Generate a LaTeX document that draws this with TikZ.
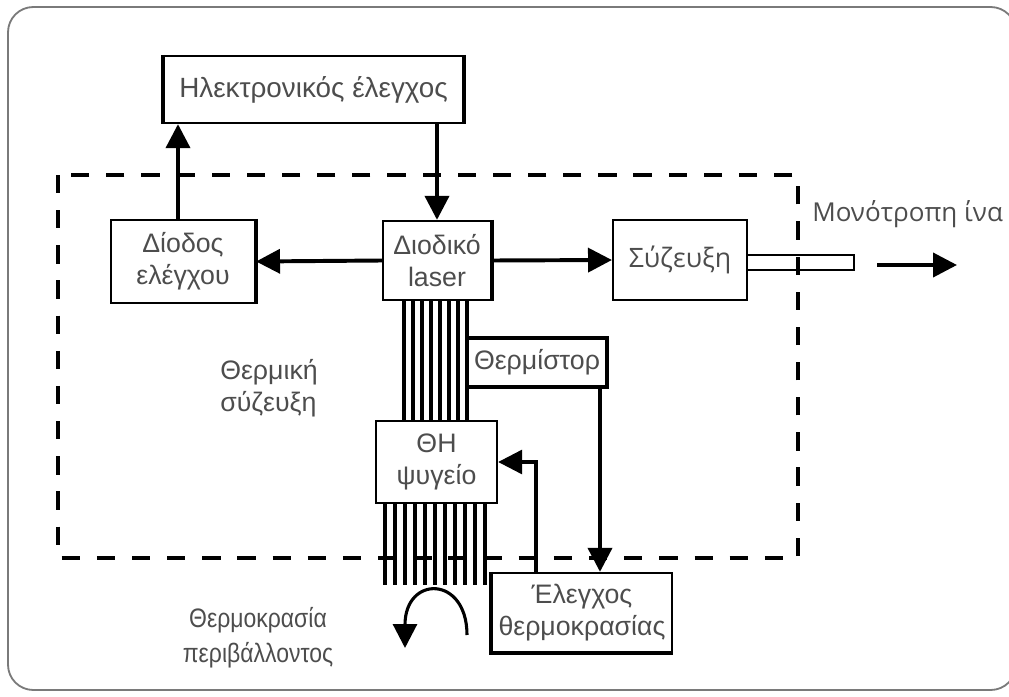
\documentclass[tikz,border=0pt]{standalone}
\usepackage{fontspec}
\setmainfont{Liberation Sans}
\newfontfamily\uifont{Open Sans}
\newfontfamily\narrowfont[FakeStretch=0.86]{Liberation Sans}
\usetikzlibrary{arrows.meta,positioning}

\definecolor{txtgray}{HTML}{4D4D4D}
\definecolor{framegray}{HTML}{7A7A7A}

\tikzset{
    box/.style={draw, line width=1.5pt, text=txtgray, align=center, inner sep=0pt,
        font=\fontsize{19}{23}\selectfont},
    lbl/.style={text=txtgray, align=center, inner sep=0pt, font=\fontsize{19}{23}\selectfont},
    arr/.style={line width=2.8pt, -{Triangle[length=17pt,width=17pt]}},
    fin/.style={line width=2.4pt},
    rim/.style={line width=3pt},
    enclosure/.style={line width=2.8pt, dash pattern=on 13pt off 12pt},
    frame/.style={draw=framegray, line width=1.3pt, rounded corners=18pt},
}

\begin{document}
\begin{tikzpicture}[x=0.025cm, y=-0.025cm]
    \useasboundingbox (0,0) rectangle (1009,697);
    \draw[frame] (8,7) rectangle (1016,690);

    % thermal enclosure
    \draw[enclosure] (58,175) rectangle (798,558);

    % blocks
    \node[box, minimum width=7.48cm, minimum height=1.68cm, font=\fontsize{19.8}{23}\selectfont] (ctrl) at (313.5,89.5) {Ηλεκτρονικός έλεγχος};
    \node[box, minimum width=3.6cm, minimum height=2.08cm] (mon) at (183,261.5) {Δίοδος\\ελέγχου};
    \node[box, minimum width=2.7cm, minimum height=1.98cm] (laser) at (437,260.5) {Διοδικό\\laser};
    \node[box, minimum width=3.35cm, minimum height=2cm, font=\uifont\fontsize{19}{23}\selectfont] (coup) at (680,260) {Σύζευξη};
    \node[draw, line width=1.5pt, minimum width=2.68cm, minimum height=0.38cm, inner sep=0pt] (fiber) at (800.5,262.5) {};
    \node[box, minimum width=3.03cm, minimum height=2.05cm] (tec) at (436.5,462) {ΘΗ\\ψυγείο};
    \node[box, line width=2.5pt, minimum width=3.5cm, minimum height=1.23cm] (therm) at (537,362.5) {Θερμίστορ};
    \node[box, minimum width=4.5cm, minimum height=1.98cm] (tctl) at (582,612.5) {Έλεγχος\\θερμοκρασίας};

    % thicker rims
    \draw[rim] (ctrl.north east) -- (ctrl.south east);
    \draw[rim] (ctrl.north west) -- (ctrl.south west);
    \draw[rim] (mon.north east) -- (mon.south east);
    \draw[rim] (laser.north east) -- (laser.south east);
    \draw[rim] (tctl.north west) -- (tctl.south west) -- (tctl.south east);

    % texts
    \node[lbl, align=left, anchor=west] (couplbl) at (220,388) {Θερμική\\σύζευξη};
    \node[lbl, font=\narrowfont\fontsize{19}{25}\selectfont] (amblbl) at (258,638) {Θερμοκρασία\\περιβάλλοντος};
    \node[lbl, anchor=west, font=\uifont\fontsize{18.5}{22}\selectfont] (fiblbl) at (812,214) {Μονότροπη ίνα};

    % heat sink fins
    \foreach \x in {404,413,...,467}
        \draw[fin] (laser.south -| \x,0) -- (tec.north -| \x,0);
    \foreach \x in {385,395,...,485}
        \draw[fin] (tec.south -| \x,0) -- (\x,585);

    % signal paths
    \draw[arr] (mon.north -| 178,0) -- (ctrl.south -| 178,0);
    \draw[arr] (ctrl.south -| laser.north) -- (laser.north);
    \draw[arr] (laser.west) -- (mon.east);
    \draw[arr] (laser.east) -- (coup.west);
    \coordinate (outA) at (877,265);
    \coordinate (outB) at (957,265);
    \draw[arr] (outA) -- (outB);
    \draw[arr] (therm.south -| 600,0) -- (tctl.north -| 600,0);
    \draw[arr, line width=2.2pt] (tctl.north -| 536,0) |- (tec.east);

    % ambient
    \coordinate (ambA) at (467,635);
    \coordinate (ambB) at (405,648);
    \draw[arr, line width=2.2pt] (ambA) .. controls (467,575) and (405,575) .. (ambB);
\end{tikzpicture}
\end{document}
